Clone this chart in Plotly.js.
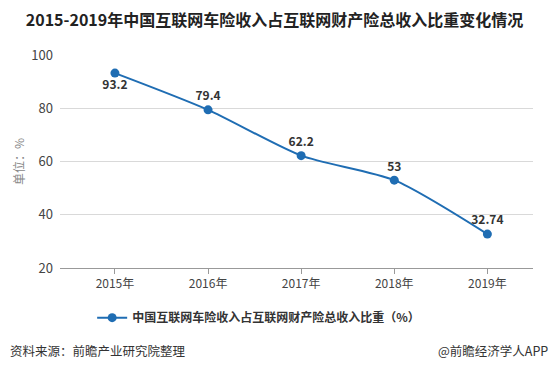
<!DOCTYPE html>
<html><head><meta charset="utf-8">
<script src="https://cdn.plot.ly/plotly-3.0.1.min.js"></script>
<style>body{margin:0;background:#fff}#c{width:549px;height:370px}</style>
</head><body><div id="c"></div>
<script>
const years = ["2015年","2016年","2017年","2018年","2019年"];
const shares = [93.2, 79.4, 62.2, 53, 32.74];
const labels = ["93.2","79.4","62.2","53","32.74"];
const labelPos = ["bottom center","top center","top center","top center","top center"];
const yTicks = [20,40,60,80,100];
const seriesName = "中国互联网车险收入占互联网财产险总收入比重（%）";
const font = "Microsoft YaHei, 'Noto Sans CJK SC', sans-serif";
const blue = "#1f6db3";

Plotly.newPlot("c", [{
  x: years, y: shares, type: "scatter", mode: "lines+markers+text",
  name: seriesName,
  line: {color: blue, width: 2, shape: "spline", smoothing: 0.7},
  marker: {color: blue, size: 9},
  text: labels, textposition: labelPos,
  textfont: {family: font, size: 12, color: "#333", weight: "bold"},
  cliponaxis: false
}], {
  width: 549, height: 370,
  margin: {l: 60, r: 16, t: 55, b: 102},
  paper_bgcolor: "#fff", plot_bgcolor: "#fff",
  title: {text: "<b>2015-2019年中国互联网车险收入占互联网财产险总收入比重变化情况</b>",
    font: {family: font, size: 16, color: "#222"}, x: 0.5, xanchor: "center", y: 0.945, yanchor: "middle"},
  xaxis: {range: [-0.59, 4.49], showgrid: false, showline: true, linecolor: "#999", linewidth: 1,
    ticks: "outside", ticklen: 5, tickcolor: "#999", zeroline: false,
    tickfont: {family: font, size: 12, color: "#444"}, fixedrange: true},
  yaxis: {range: [20, 100], tickvals: yTicks, showgrid: true, gridcolor: "#d9d9d9", gridwidth: 1,
    showline: false, zeroline: false, ticks: "", ticklabelstandoff: 6,
    tickfont: {family: font, size: 13, color: "#444"},
    title: {text: "单位：%", font: {family: font, size: 12, color: "#888"}, standoff: 4}},
  showlegend: true,
  legend: {orientation: "h", x: 0.42, xanchor: "center", y: -0.165, yanchor: "top",
    font: {family: font, size: 12, color: "#333", weight: "bold"}},
  annotations: [
    {text: "资料来源：前瞻产业研究院整理", xref: "paper", yref: "paper", x: -0.11, y: -0.385,
      xanchor: "left", yanchor: "middle", showarrow: false, font: {family: font, size: 12.5, color: "#333"}},
    {text: "@前瞻经济学人APP", xref: "paper", yref: "paper", x: 1.035, y: -0.385,
      xanchor: "right", yanchor: "middle", showarrow: false, font: {family: font, size: 12.5, color: "#333"}}
  ]
}, {displayModeBar: false, staticPlot: true});
</script></body></html>
